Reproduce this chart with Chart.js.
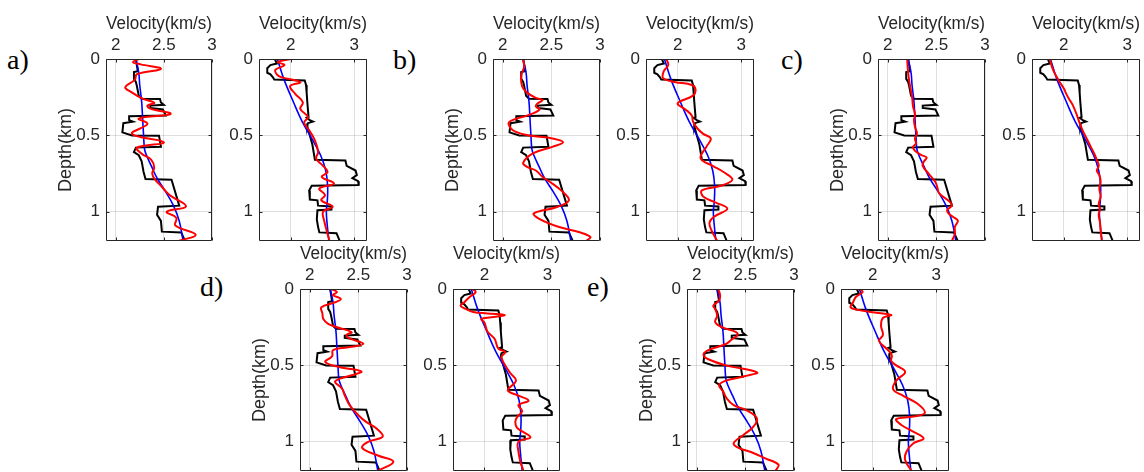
<!DOCTYPE html>
<html>
<head>
<meta charset="utf-8">
<script src="https://cdn.jsdelivr.net/npm/chart.js@4.4.0/dist/chart.umd.min.js"></script>
<style>
  html, body { margin: 0; padding: 0; background: #fff; overflow: hidden; }
  #fig { position: relative; width: 1144px; height: 472px; }
  #fig canvas { position: absolute; }
  .tag { position: absolute; font-family: "Liberation Serif", "Times New Roman", serif; font-size: 28px; line-height: 28px; color: #000; }
</style>
</head>
<body>
<div id="fig">
  <span class="tag" style="left:7px;top:46px">a)</span>
  <span class="tag" style="left:393px;top:46px">b)</span>
  <span class="tag" style="left:781px;top:46px">c)</span>
  <span class="tag" style="left:200px;top:273px">d)</span>
  <span class="tag" style="left:587px;top:273px">e)</span>
</div>
<script>
// tick labels
const depthTicks = [0, 0.5, 1];
const velTicksLeft = [2, 2.5, 3];
const velTicksRight = [2, 3];

// well logs, [depth km, velocity km/s]
const logLeft = [[0,2.21],[0.04,2.22],[0.08,2.23],[0.085,2.19],[0.13,2.19],[0.15,2.21],[0.175,2.22],[0.24,2.24],[0.26,2.27],[0.262,2.46],[0.285,2.47],[0.30,2.50],[0.305,2.36],[0.32,2.36],[0.33,2.49],[0.37,2.52],[0.375,2.14],[0.40,2.14],[0.41,2.18],[0.42,2.08],[0.48,2.07],[0.50,2.17],[0.502,2.45],[0.575,2.47],[0.58,2.21],[0.61,2.19],[0.63,2.24],[0.67,2.27],[0.74,2.29],[0.785,2.31],[0.79,2.58],[0.96,2.66],[0.967,2.44],[1.02,2.43],[1.06,2.47],[1.13,2.48],[1.135,2.68],[1.19,2.72]];
const logRight = [[0,1.75],[0.03,1.78],[0.04,1.68],[0.06,1.63],[0.09,1.63],[0.10,1.68],[0.12,1.72],[0.135,1.74],[0.14,2.22],[0.17,2.24],[0.22,2.25],[0.28,2.26],[0.38,2.28],[0.385,2.25],[0.40,2.30],[0.41,2.35],[0.42,2.27],[0.44,2.26],[0.50,2.30],[0.56,2.34],[0.66,2.38],[0.665,2.86],[0.70,2.88],[0.73,3.02],[0.76,3.04],[0.78,2.97],[0.80,3.06],[0.825,3.07],[0.83,2.33],[0.86,2.29],[0.92,2.30],[0.925,2.42],[0.96,2.43],[0.965,2.64],[0.985,2.64],[0.99,2.42],[1.05,2.41],[1.10,2.43],[1.135,2.45],[1.14,2.72],[1.19,2.77]];

// smooth trend (blue)
const trendLeft = [[0,2.21],[0.09,2.24],[0.17,2.25],[0.28,2.27],[0.39,2.28],[0.50,2.29],[0.59,2.30],[0.63,2.32],[0.70,2.37],[0.78,2.43],[0.87,2.52],[0.96,2.60],[1.06,2.66],[1.19,2.70]];
const trendRight = [[0,1.79],[0.13,1.89],[0.28,2.04],[0.41,2.18],[0.52,2.33],[0.63,2.47],[0.73,2.55],[0.83,2.58],[0.93,2.575],[1.0,2.56],[1.09,2.575],[1.19,2.60]];

// inverted (red), one per panel
const redA1 = [[0,2.24],[0.02,2.18],[0.035,2.26],[0.065,2.47],[0.10,2.22],[0.135,2.20],[0.185,2.10],[0.215,2.16],[0.26,2.28],[0.287,2.40],[0.305,2.33],[0.325,2.36],[0.36,2.57],[0.39,2.24],[0.425,2.33],[0.49,2.17],[0.545,2.50],[0.58,2.22],[0.62,2.27],[0.66,2.37],[0.71,2.40],[0.75,2.38],[0.79,2.41],[0.83,2.47],[0.89,2.56],[0.965,2.73],[1.00,2.53],[1.04,2.63],[1.09,2.62],[1.15,2.83],[1.19,2.66]];
const redA2 = [[0,2.00],[0.02,1.80],[0.04,1.90],[0.07,1.76],[0.10,1.78],[0.12,1.86],[0.152,2.15],[0.178,1.99],[0.228,2.07],[0.283,2.19],[0.326,2.15],[0.38,2.27],[0.417,2.21],[0.467,2.29],[0.533,2.38],[0.609,2.43],[0.652,2.40],[0.696,2.50],[0.739,2.58],[0.772,2.49],[0.815,2.68],[0.848,2.45],[0.891,2.54],[0.924,2.48],[0.967,2.66],[1.0,2.51],[1.065,2.53],[1.13,2.57],[1.19,2.61]];
const redB1 = [[0,2.21],[0.05,2.22],[0.11,2.19],[0.18,2.20],[0.22,2.25],[0.255,2.34],[0.268,2.41],[0.29,2.36],[0.31,2.34],[0.33,2.38],[0.366,2.27],[0.40,2.10],[0.425,2.06],[0.476,2.13],[0.504,2.31],[0.52,2.51],[0.545,2.62],[0.575,2.51],[0.618,2.31],[0.68,2.21],[0.706,2.25],[0.73,2.34],[0.772,2.41],[0.816,2.51],[0.86,2.60],[0.925,2.68],[0.97,2.55],[1.01,2.32],[1.046,2.375],[1.10,2.58],[1.134,2.79],[1.165,2.90],[1.19,2.86]];
const redB2 = [[0,1.82],[0.04,1.85],[0.08,1.78],[0.125,1.77],[0.15,1.95],[0.17,2.22],[0.20,2.28],[0.24,2.24],[0.29,2.00],[0.33,2.12],[0.37,2.22],[0.41,2.24],[0.45,2.30],[0.49,2.40],[0.52,2.52],[0.575,2.45],[0.65,2.36],[0.70,2.55],[0.74,2.72],[0.79,2.86],[0.83,2.68],[0.86,2.38],[0.90,2.40],[0.94,2.60],[0.98,2.78],[1.03,2.58],[1.07,2.50],[1.12,2.53],[1.19,2.62]];
const redC1 = [[0,2.20],[0.09,2.21],[0.18,2.23],[0.245,2.25],[0.31,2.26],[0.36,2.28],[0.40,2.27],[0.443,2.28],[0.487,2.30],[0.52,2.28],[0.553,2.29],[0.575,2.26],[0.60,2.28],[0.63,2.35],[0.645,2.40],[0.673,2.37],[0.70,2.36],[0.75,2.42],[0.805,2.49],[0.84,2.51],[0.88,2.53],[0.925,2.62],[0.958,2.66],[0.99,2.61],[1.02,2.64],[1.057,2.72],[1.10,2.69],[1.145,2.69],[1.19,2.66]];
const redC2 = [[0,1.78],[0.07,1.83],[0.14,1.92],[0.20,2.01],[0.22,2.03],[0.26,2.08],[0.30,2.14],[0.36,2.20],[0.42,2.25],[0.47,2.30],[0.52,2.36],[0.57,2.42],[0.62,2.48],[0.66,2.52],[0.70,2.55],[0.73,2.52],[0.76,2.56],[0.80,2.58],[0.85,2.56],[0.90,2.58],[0.95,2.55],[0.98,2.57],[1.02,2.55],[1.07,2.57],[1.12,2.58],[1.19,2.60]];
const redD1 = [[0,2.22],[0.02,2.28],[0.04,2.24],[0.065,2.32],[0.087,2.26],[0.12,2.12],[0.16,2.13],[0.196,2.14],[0.228,2.19],[0.25,2.28],[0.283,2.43],[0.30,2.38],[0.32,2.40],[0.359,2.55],[0.38,2.41],[0.40,2.24],[0.44,2.23],[0.478,2.16],[0.51,2.30],[0.539,2.53],[0.565,2.43],[0.587,2.31],[0.609,2.26],[0.65,2.33],[0.696,2.36],[0.76,2.41],[0.826,2.50],[0.87,2.58],[0.91,2.68],[0.966,2.75],[1.0,2.60],[1.04,2.54],[1.09,2.70],[1.13,2.86],[1.19,2.70]];
const redD2 = [[0,1.81],[0.02,1.86],[0.054,1.76],[0.09,1.67],[0.11,1.62],[0.13,1.70],[0.15,1.82],[0.16,2.05],[0.17,2.32],[0.185,2.11],[0.196,1.95],[0.22,2.00],[0.28,2.05],[0.326,2.16],[0.39,2.22],[0.413,2.33],[0.445,2.27],[0.50,2.33],[0.55,2.41],[0.60,2.50],[0.663,2.37],[0.69,2.49],[0.73,2.70],[0.76,2.54],[0.80,2.60],[0.837,2.52],[0.87,2.49],[0.91,2.52],[0.97,2.73],[1.0,2.54],[1.065,2.54],[1.13,2.57],[1.19,2.62]];
const redE1 = [[0,2.22],[0.04,2.24],[0.075,2.23],[0.11,2.17],[0.13,2.19],[0.174,2.21],[0.217,2.19],[0.25,2.26],[0.28,2.40],[0.30,2.42],[0.33,2.36],[0.36,2.30],[0.40,2.12],[0.43,2.07],[0.46,2.12],[0.50,2.30],[0.545,2.62],[0.57,2.50],[0.60,2.30],[0.63,2.23],[0.67,2.27],[0.717,2.31],[0.76,2.38],[0.79,2.50],[0.83,2.60],[0.86,2.62],[0.91,2.57],[0.96,2.47],[1.01,2.38],[1.04,2.43],[1.07,2.57],[1.11,2.71],[1.15,2.84],[1.19,2.81]];
const redE2 = [[0,1.80],[0.02,1.84],[0.054,1.73],[0.087,1.69],[0.12,1.65],[0.135,1.75],[0.152,2.00],[0.17,2.29],[0.19,2.16],[0.24,2.13],[0.30,2.16],[0.34,2.10],[0.40,2.24],[0.435,2.30],[0.47,2.29],[0.50,2.37],[0.543,2.51],[0.60,2.37],[0.655,2.32],[0.70,2.48],[0.75,2.70],[0.81,2.82],[0.835,2.64],[0.852,2.37],[0.89,2.45],[0.93,2.62],[0.978,2.80],[1.01,2.64],[1.065,2.53],[1.12,2.51],[1.19,2.61]];

const INK = '#262626';
const TICK_FONT = { family: '"Liberation Sans", Arial, Helvetica, sans-serif', size: 17 };
const TITLE_FONT = { family: '"Liberation Sans", Arial, Helvetica, sans-serif', size: 18 };
const fig = document.getElementById('fig');

// MATLAB-like box with inner tick marks
const framePlugin = {
  id: 'frame',
  afterDraw(chart) {
    const { ctx, chartArea: a, scales: { x, y } } = chart;
    const L = Math.round(a.left) + 0.5, R = Math.round(a.right) - 0.5;
    const T = Math.round(a.top) + 0.5, B = Math.round(a.bottom) - 0.5;
    ctx.save();
    ctx.strokeStyle = INK;
    ctx.lineWidth = 1;
    ctx.beginPath();
    x.ticks.forEach(t => {
      const px = Math.round(x.getPixelForValue(t.value)) + 0.5;
      ctx.moveTo(px, T); ctx.lineTo(px, T + 3);
      ctx.moveTo(px, B); ctx.lineTo(px, B - 3);
    });
    y.ticks.forEach(t => {
      const py = Math.round(y.getPixelForValue(t.value)) + 0.5;
      ctx.moveTo(L, py); ctx.lineTo(L + 3, py);
      ctx.moveTo(R, py); ctx.lineTo(R - 3, py);
    });
    ctx.moveTo(L, T); ctx.lineTo(R, T); ctx.lineTo(R, B); ctx.lineTo(L, B); ctx.closePath();
    ctx.stroke();
    ctx.restore();
  }
};

function pts(pairs) {
  return pairs.map(p => ({ x: p[1], y: p[0] }));
}

const panels = [
  { left: 106, top: 59, w: 106, side: 'L', red: redA1, depth: true },
  { left: 259, top: 59, w: 108, side: 'R', red: redA2 },
  { left: 493, top: 59, w: 107, side: 'L', red: redB1, depth: true },
  { left: 646, top: 59, w: 108, side: 'R', red: redB2 },
  { left: 878, top: 59, w: 107, side: 'L', red: redC1, depth: true },
  { left: 1032, top: 59, w: 108, side: 'R', red: redC2 },
  { left: 300, top: 289, w: 107, side: 'L', red: redD1, depth: true },
  { left: 453, top: 289, w: 107, side: 'R', red: redD2 },
  { left: 687, top: 289, w: 107, side: 'L', red: redE1, depth: true },
  { left: 841, top: 289, w: 108, side: 'R', red: redE2 }
];

const YW = 60, XH = 59, PH = 182, PR = 14, PB = 16;

panels.forEach(p => {
  const right = p.side === 'R';
  const cv = document.createElement('canvas');
  cv.width = YW + p.w + PR;
  cv.height = XH + PH + PB;
  cv.style.left = (p.left - YW) + 'px';
  cv.style.top = (p.top - XH) + 'px';
  fig.appendChild(cv);

  const velTicks = right ? velTicksRight : velTicksLeft;
  new Chart(cv, {
    type: 'scatter',
    data: {
      datasets: [
        { data: pts(p.red), borderColor: '#ff0000', borderWidth: 2, tension: 0.4, showLine: true },
        { data: pts(right ? trendRight : trendLeft), borderColor: '#0000ff', borderWidth: 1.6, tension: 0.4, showLine: true },
        { data: pts(right ? logRight : logLeft), borderColor: '#000000', borderWidth: 2, tension: 0, showLine: true }
      ]
    },
    options: {
      responsive: false,
      animation: false,
      events: [],
      elements: { point: { radius: 0 } },
      layout: { padding: { left: 0, top: 0, right: PR, bottom: PB } },
      plugins: { legend: { display: false }, tooltip: { enabled: false } },
      scales: {
        x: {
          type: 'linear',
          position: 'top',
          min: right ? 1.5 : 1.9,
          max: right ? 3.2 : 3,
          afterBuildTicks: s => { s.ticks = velTicks.map(v => ({ value: v })); },
          afterFit: s => { s.height = XH; },
          ticks: { color: INK, font: TICK_FONT, padding: 3, maxRotation: 0, callback: v => String(v) },
          grid: { color: 'rgba(38,38,38,0.15)', drawTicks: false },
          border: { display: false },
          title: { display: true, text: 'Velocity(km/s)', color: INK, font: TITLE_FONT, padding: { top: 13, bottom: 0 } }
        },
        y: {
          type: 'linear',
          reverse: true,
          min: 0,
          max: 1.19,
          afterBuildTicks: s => { s.ticks = depthTicks.map(v => ({ value: v })); },
          afterFit: s => { s.width = YW; },
          ticks: { color: INK, font: TICK_FONT, padding: 6, callback: v => String(v) },
          grid: { color: 'rgba(38,38,38,0.15)', drawTicks: false },
          border: { display: false },
          title: { display: !!p.depth, text: 'Depth(km)', color: INK, font: TITLE_FONT, padding: { top: 9, bottom: 0 } }
        }
      }
    },
    plugins: [framePlugin]
  });
});
</script>
</body>
</html>
